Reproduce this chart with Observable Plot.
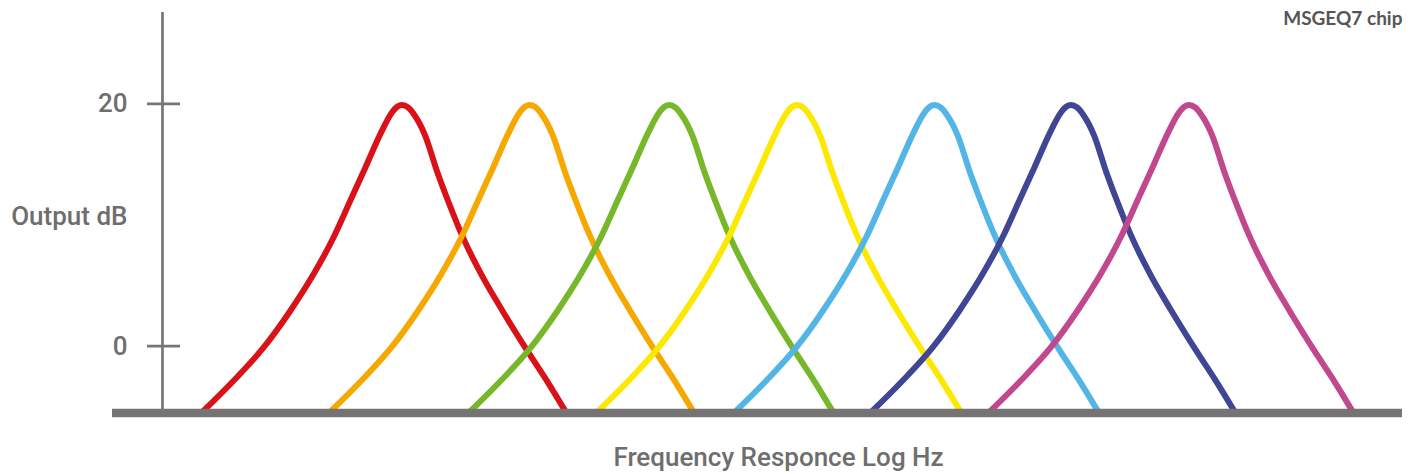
<!DOCTYPE html>
<html>
<head>
<meta charset="utf-8">
<script src="https://cdn.jsdelivr.net/npm/d3@7"></script>
<script src="https://cdn.jsdelivr.net/npm/@observablehq/plot@0.6"></script>
<style>
  html, body { margin: 0; padding: 0; background: #ffffff; }
  #chart { width: 1410px; height: 474px; overflow: hidden; }
</style>
</head>
<body>
<div id="chart"></div>
<script>
// Band names (MSGEQ7 bands) and their peak positions, in log10 Hz
const bands = ["63 Hz", "160 Hz", "400 Hz", "1 kHz", "2.5 kHz", "6.25 kHz", "16 kHz"];
const peakLogHz = [1.773, 2.185, 2.635, 3.047, 3.491, 3.931, 4.312];
const bandColors = ["#d9121a", "#f6a800", "#77b82a", "#fde800", "#52b5e5", "#414694", "#c1478f"];

// Response shape of one band filter (the same for every band): offset from peak (decades) and output (dB)
const shapeOffset = [-0.648, -0.543, -0.446, -0.360, -0.285, -0.221, -0.167, -0.118, -0.070, -0.035, -0.016, 0,
                     0.019, 0.039, 0.074, 0.113, 0.148, 0.194, 0.258, 0.323, 0.403, 0.468, 0.530];
const shapeDb = [-5.51, -2.83, -0.08, 2.95, 5.97, 8.99, 12.02, 14.77, 17.52, 19.2, 19.75, 19.9,
                 19.7, 19.1, 17.4, 14.4, 12.0, 9.1, 5.8, 2.95, -0.35, -2.9, -5.51];

// Axis
const yTicks = [0, 20];
const yDomain = [-5.51, 27.53];
const xDomain = [1, 5];

const rows = [];
bands.forEach((b, i) => {
  shapeOffset.forEach((o, j) => rows.push({band: b, x: peakLogHz[i] + o, db: shapeDb[j]}));
});

const labelFont = "Roboto, 'DejaVu Sans', sans-serif";
const gray = "#767676";

const chart = Plot.plot({
  width: 1410,
  height: 474,
  marginLeft: 162,
  marginRight: 8,
  marginTop: 12,
  marginBottom: 61.5,
  style: {fontFamily: labelFont, background: "#ffffff", overflow: "visible"},
  x: {domain: xDomain, axis: null},
  y: {domain: yDomain, axis: null},
  color: {domain: bands, range: bandColors},
  marks: [
    Plot.ruleX([xDomain[0]], {stroke: gray, strokeWidth: 2.7}),
    Plot.axisY(yTicks, {
      anchor: "left", tickSize: 33, dx: 18, tickPadding: 20,
      stroke: gray, strokeWidth: 2.7, fill: "#6e6e6e",
      fontSize: 26, fontWeight: 500, tickFormat: d => String(d), label: null
    }),
    Plot.line(rows, {x: "x", y: "db", z: "band", stroke: "band", strokeWidth: 6, curve: "monotone-x"}),
    Plot.ruleY([yDomain[0]], {stroke: "#757373", strokeWidth: 8.5, insetLeft: -50}),
    Plot.text(["Output dB"], {frameAnchor: "left", dx: -35, dy: 3.5, textAnchor: "end",
      fontSize: 26, fontWeight: 500, fill: "#6e6e6e", text: d => d}),
    Plot.text(["Frequency Responce Log Hz"], {frameAnchor: "bottom", dx: -4, dy: 53,
      fontSize: 26, fontWeight: 500, fill: "#6e6e6e", text: d => d}),
    Plot.text(["MSGEQ7 chip"], {frameAnchor: "top-right", textAnchor: "end", dy: -1,
      fontSize: 19, fontWeight: 700, fill: "#555555", fontFamily: "Lato, 'Open Sans', sans-serif", text: d => d})
  ]
});
document.getElementById("chart").appendChild(chart);
</script>
</body>
</html>
